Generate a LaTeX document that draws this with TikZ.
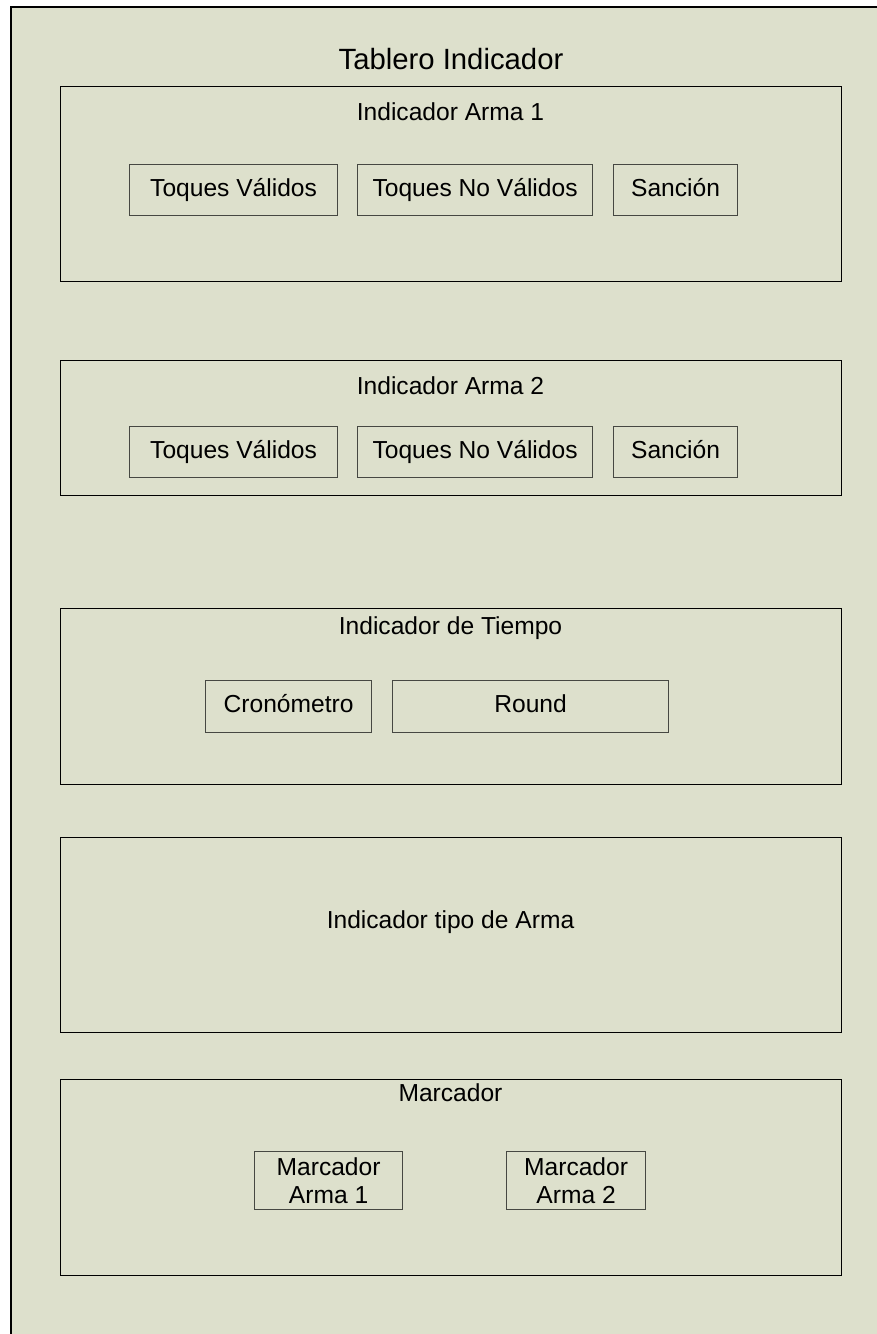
\documentclass[tikz,border=0pt]{standalone}
\usepackage{fontspec}
\setmainfont{Liberation Sans}
\definecolor{bg}{RGB}{221,224,204}
\definecolor{itemline}{RGB}{70,72,66}
\begin{document}
\begin{tikzpicture}[x=1pt,y=-1pt,
  panel/.style={draw=black, line width=1.2pt, inner sep=0pt, anchor=north west, minimum width=781pt},
  item/.style={draw=itemline, line width=1.2pt, inner sep=0pt, anchor=north west, font=\fontsize{24.6}{28}\selectfont, align=center},
  one/.style={text height=17.5pt, text depth=5pt},
  lbl/.style={font=\fontsize{24.6}{28}\selectfont, inner sep=0pt, text height=17.5pt, text depth=5pt},
  ttl/.style={font=\fontsize{29.3}{33}\selectfont, inner sep=0pt}]
\useasboundingbox (0,0) rectangle (877,1334);
\fill[bg] (11,7) rectangle (877,1334);
\draw[line width=1.2pt] (11,1334) -- (11,7) -- (877,7);
\node[ttl] (title) at (451,59) {Tablero Indicador};
% Indicador Arma 1
\node[panel, minimum height=195pt] (arma1) at (60,86) {};
\node[lbl] (arma1t) at (450.5,114) {Indicador Arma 1};
\node[item, one, minimum width=208pt, minimum height=51pt] (tv1) at (129,164) {Toques Válidos};
\node[item, one, minimum width=235pt, minimum height=51pt] (tnv1) at (357,164) {Toques No Válidos};
\node[item, one, minimum width=124pt, minimum height=51pt] (san1) at (613,164) {Sanción};
% Indicador Arma 2
\node[panel, minimum height=135pt] (arma2) at (60,360) {};
\node[lbl] (arma2t) at (450.5,388) {Indicador Arma 2};
\node[item, one, minimum width=208pt, minimum height=51pt] (tv2) at (129,426) {Toques Válidos};
\node[item, one, minimum width=235pt, minimum height=51pt] (tnv2) at (357,426) {Toques No Válidos};
\node[item, one, minimum width=124pt, minimum height=51pt] (san2) at (613,426) {Sanción};
% Indicador de Tiempo
\node[panel, minimum height=176pt] (tiempo) at (60,608) {};
\node[lbl] (tiempot) at (450.5,628) {Indicador de Tiempo};
\node[item, one, minimum width=166pt, minimum height=52pt] (crono) at (205,680) {Cronómetro};
\node[item, one, minimum width=276pt, minimum height=52pt] (round) at (392,680) {Round};
% Indicador tipo de Arma
\node[panel, minimum height=195pt] (tipo) at (60,837) {};
\node[lbl] (tipot) at (450.5,922) {Indicador tipo de Arma};
% Marcador
\node[panel, minimum height=196pt] (marc) at (60,1079) {};
\node[lbl] (marct) at (450.5,1095) {Marcador};
\node[item, minimum width=148pt, minimum height=58pt] (m1) at (254,1151) {Marcador\\Arma 1};
\node[item, minimum width=139pt, minimum height=58pt] (m2) at (506,1151) {Marcador\\Arma 2};
\end{tikzpicture}
\end{document}
